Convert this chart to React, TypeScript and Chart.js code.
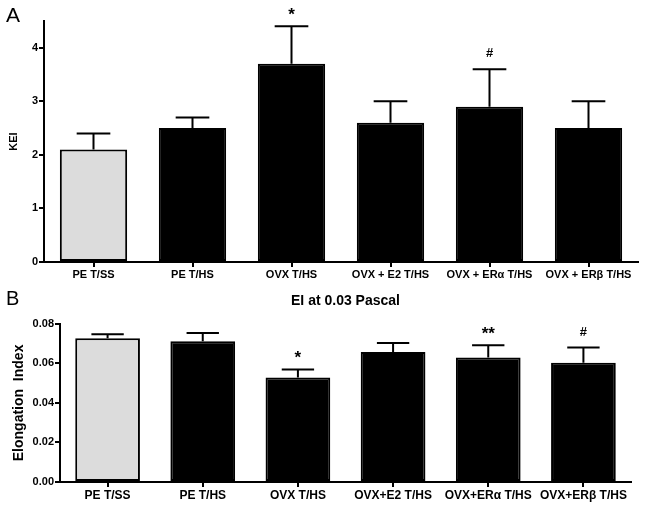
import React, { useEffect, useRef } from "react";
import { Chart, registerables } from "chart.js";

Chart.register(...registerables);

const FONT = "'Liberation Sans', Arial, Helvetica, sans-serif";

// Panel A data
const categoriesA = ["PE T/SS", "PE T/HS", "OVX T/HS", "OVX + E2 T/HS", "OVX + ERα T/HS", "OVX + ERβ T/HS"];
const keiMeans = [2.1, 2.5, 3.7, 2.6, 2.9, 2.5];
const keiErrTop = [2.4, 2.7, 4.4, 3.0, 3.6, 3.0];
const keiMarks = ["", "", "*", "", "#", ""];
const keiTicks = [0, 1, 2, 3, 4];

// Panel B data
const categoriesB = ["PE T/SS", "PE T/HS", "OVX T/HS", "OVX+E2 T/HS", "OVX+ERα T/HS", "OVX+ERβ T/HS"];
const eiMeans = [0.0727, 0.0712, 0.0529, 0.0658, 0.063, 0.0603];
const eiErrTop = [0.0747, 0.0754, 0.0569, 0.0703, 0.0692, 0.068];
const eiMarks = ["", "", "*", "", "**", "#"];
const eiTicks = [0, 0.02, 0.04, 0.06, 0.08];

const barColors = ["#dcdcdc", "#000000", "#000000", "#000000", "#000000", "#000000"];

type Extra = {
  errTop: number[];
  marks: string[];
  panel: string;
  panelSize: number;
  panelX: number;
  panelY: number;
};

const errorPlugin = {
  id: "errAndMarks",
  afterDatasetsDraw(chart: any, _args: any, opts: any) {
    const ex: Extra = opts.extra;
    if (!ex) return;
    const ctx = chart.ctx;
    const meta = chart.getDatasetMeta(0);
    const y = chart.scales.y;
    ctx.save();
    ctx.strokeStyle = "#000";
    ctx.fillStyle = "#000";
    ctx.lineWidth = 2;
    meta.data.forEach((bar: any, i: number) => {
      const x = bar.x;
      const y1 = bar.y;
      const y2 = y.getPixelForValue(ex.errTop[i]);
      const half = bar.width / 4;
      ctx.beginPath();
      ctx.moveTo(x, y1);
      ctx.lineTo(x, y2);
      ctx.moveTo(x - half, y2);
      ctx.lineTo(x + half, y2);
      ctx.stroke();
      const m = ex.marks[i];
      if (m) {
        ctx.textAlign = "center";
        ctx.textBaseline = "alphabetic";
        if (m.includes("*")) {
          ctx.font = `bold 17px ${FONT}`;
          ctx.fillText(m, x, y2 - 6);
        } else {
          ctx.font = `bold 13px ${FONT}`;
          ctx.fillText(m, x, y2 - 12);
        }
      }
    });
    ctx.font = `${ex.panelSize}px ${FONT}`;
    ctx.textAlign = "left";
    ctx.textBaseline = "alphabetic";
    ctx.fillText(ex.panel, ex.panelX, ex.panelY);
    ctx.restore();
  },
};

function makeConfig(
  labels: string[],
  values: number[],
  ex: Extra,
  yMax: number,
  ticks: number[],
  yTitle: string,
  yTitleSize: number,
  yTitlePad: number,
  xFont: number,
  yWidth: number,
  xHeight: number,
  padding: any,
  title: string | null,
  decimals: number
): any {
  return {
    type: "bar",
    data: {
      labels,
      datasets: [
        {
          data: values,
          backgroundColor: barColors,
          borderColor: "#000",
          borderWidth: 2,
          borderSkipped: false,
          barPercentage: 0.68,
          categoryPercentage: 1,
        },
      ],
    },
    options: {
      responsive: false,
      animation: false,
      layout: { padding },
      plugins: {
        legend: { display: false },
        tooltip: { enabled: false },
        title: title
          ? {
              display: true,
              text: title,
              fullSize: false,
              color: "#000",
              font: { family: FONT, size: 14, weight: "bold" },
              padding: { top: 8, bottom: 14 },
            }
          : { display: false },
        errAndMarks: { extra: ex },
      },
      scales: {
        x: {
          grid: {
            display: true,
            drawOnChartArea: false,
            drawTicks: true,
            tickLength: 5,
            offset: false,
            color: "#000",
            lineWidth: 2,
          },
          border: { display: true, color: "#000", width: 2 },
          ticks: {
            color: "#000",
            font: { family: FONT, size: xFont, weight: "bold" },
            padding: 1,
            maxRotation: 0,
            autoSkip: false,
          },
          afterFit: (s: any) => {
            s.height = xHeight;
          },
        },
        y: {
          min: 0,
          max: yMax,
          afterBuildTicks: (s: any) => {
            s.ticks = ticks.map((v) => ({ value: v }));
          },
          grid: {
            display: true,
            drawOnChartArea: false,
            drawTicks: true,
            tickLength: 5,
            color: "#000",
            lineWidth: 2,
          },
          border: { display: true, color: "#000", width: 2 },
          ticks: {
            color: "#000",
            font: { family: FONT, size: 11, weight: "bold" },
            padding: 1,
            callback: (v: any) => Number(v).toFixed(decimals),
          },
          title: {
            display: true,
            text: yTitle,
            color: "#000",
            font: { family: FONT, size: yTitleSize, weight: "bold" },
            padding: { top: yTitlePad, bottom: 0 },
          },
          afterFit: (s: any) => {
            s.width = yWidth;
          },
        },
      },
    },
    plugins: [errorPlugin],
  };
}

export default function App() {
  const refA = useRef<HTMLCanvasElement>(null);
  const refB = useRef<HTMLCanvasElement>(null);

  useEffect(() => {
    const exA: Extra = { errTop: keiErrTop, marks: keiMarks, panel: "A", panelSize: 21, panelX: 6, panelY: 22 };
    const exB: Extra = { errTop: eiErrTop, marks: eiMarks, panel: "B", panelSize: 20, panelX: 6, panelY: 20 };
    const a = new Chart(
      refA.current!,
      makeConfig(categoriesA, keiMeans, exA, 4.5, keiTicks, "KEI", 11, 7, 11, 44, 23,
        { top: 21, right: 7, left: 0, bottom: 0 }, null, 0)
    );
    const b = new Chart(
      refB.current!,
      makeConfig(categoriesB, eiMeans, exB, 0.08, eiTicks, "Elongation  Index", 14, 11, 12, 60, 25,
        { top: 0, right: 14, left: 0, bottom: 0 }, "EI at 0.03 Pascal", 2)
    );
    return () => {
      a.destroy();
      b.destroy();
    };
  }, []);

  return (
    <div style={{ position: "absolute", left: 0, top: 0, width: 645, height: 507, background: "#fff" }}>
      <canvas ref={refA} width={645} height={285} style={{ display: "block" }} />
      <canvas ref={refB} width={645} height={222} style={{ display: "block" }} />
    </div>
  );
}
